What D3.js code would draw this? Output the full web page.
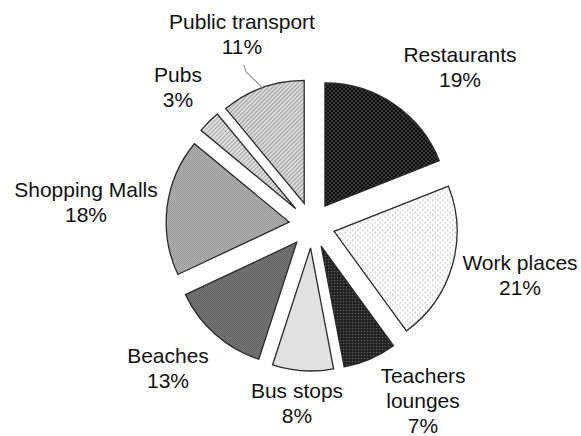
<!DOCTYPE html>
<html><head><meta charset="utf-8">
<script src="https://cdn.jsdelivr.net/npm/d3@7"></script>
<style>html,body{margin:0;padding:0;background:#fff;}svg{display:block;}</style>
</head><body>
<script>
const categories = ["Restaurants","Work places","Teachers lounges","Bus stops","Beaches","Shopping Malls","Pubs","Public transport"];
const values = [19,21,7,8,13,18,3,11];
const labelLines = [["Restaurants","19%"],["Work places","21%"],["Teachers","lounges","7%"],["Bus stops","8%"],["Beaches","13%"],["Shopping Malls","18%"],["Pubs","3%"],["Public transport","11%"]];
const patternIds = ["pRest","pWork","pTeach","pBus","pBeach","pShop","pPubs","pTrans"];
const labelPos = [[460,62],[520,270],[423,383],[297,398],[168,363],[86,197],[178,82],[242,29]];

const W=581,H=436, cx=312, cy=225, R=123, explode=23;
const svg=d3.select("body").append("svg").attr("width",W).attr("height",H);
const defs=svg.append("defs");

function dotPattern(id,size,bg,dot,r,pts){
  const p=defs.append("pattern").attr("id",id).attr("patternUnits","userSpaceOnUse").attr("width",size).attr("height",size);
  p.append("rect").attr("width",size).attr("height",size).attr("fill",bg);
  pts.forEach(q=>p.append("circle").attr("cx",q[0]).attr("cy",q[1]).attr("r",r).attr("fill",dot));
}
function checker(id,a,b){
  const p=defs.append("pattern").attr("id",id).attr("patternUnits","userSpaceOnUse").attr("width",2).attr("height",2);
  p.append("rect").attr("width",2).attr("height",2).attr("fill",a);
  p.append("rect").attr("width",1).attr("height",1).attr("fill",b);
  p.append("rect").attr("x",1).attr("y",1).attr("width",1).attr("height",1).attr("fill",b);
}
function hatch(id,bg,line){
  const p=defs.append("pattern").attr("id",id).attr("patternUnits","userSpaceOnUse").attr("width",3).attr("height",3).attr("patternTransform","rotate(45)");
  p.append("rect").attr("width",3).attr("height",3).attr("fill",bg);
  p.append("line").attr("x1",0).attr("y1",0).attr("x2",0).attr("y2",3).attr("stroke",line).attr("stroke-width",1.3);
}
dotPattern("pRest",4,"#0d0d0d","#8a8a8a",0.65,[[1,1],[3,3]]);
dotPattern("pWork",5,"#ffffff","#a8a8a8",0.7,[[1.2,1.2],[3.7,3.7]]);
dotPattern("pTeach",3,"#1f1f1f","#6a6a6a",0.75,[[1.5,1.5]]);
checker("pBus","#d2d2d2","#f0f0f0");
checker("pBeach","#4f4f4f","#8a8a8a");
checker("pShop","#8a8a8a","#c0c0c0");
hatch("pPubs","#e0e0e0","#858585");
hatch("pTrans","#dadada","#808080");

const data=categories.map((c,i)=>({name:c,value:values[i],i}));
const pie=d3.pie().value(d=>d.value).sort(null).startAngle(0).endAngle(2*Math.PI);
const arcs=pie(data);
const arc=d3.arc().innerRadius(0).outerRadius(R);

const g=svg.append("g").attr("transform",`translate(${cx},${cy})`);
function off(a){const m=(a.startAngle+a.endAngle)/2;return [explode*Math.sin(m),-explode*Math.cos(m)];}
g.selectAll("path.slice").data(arcs).enter().append("path")
  .attr("class","slice")
  .attr("transform",d=>{const o=off(d);return `translate(${o[0]},${o[1]})`;})
  .attr("d",arc)
  .attr("fill",d=>`url(#${patternIds[d.data.i]})`)
  .attr("stroke","#2a2a2a").attr("stroke-width",1.3).attr("stroke-linejoin","miter");

// leader line for Public transport
const pt=arcs[7];
const o7=off(pt);
const am=(pt.startAngle+pt.endAngle)/2;
const ex=cx+o7[0]+R*Math.sin(am), ey=cy+o7[1]-R*Math.cos(am);
svg.append("polyline").attr("points",`${labelPos[7][0]+2},${labelPos[7][1]+36} ${labelPos[7][0]+4},${labelPos[7][1]+43} ${ex},${ey}`)
  .attr("fill","none").attr("stroke","#999").attr("stroke-width",1.2);

const lab=svg.append("g").attr("font-family","Liberation Sans, Arial, sans-serif").attr("font-size",21).attr("fill","#111").attr("text-anchor","middle");
labelLines.forEach((lines,i)=>{
  const t=lab.append("text").attr("x",labelPos[i][0]).attr("y",labelPos[i][1]);
  lines.forEach((s,k)=>t.append("tspan").attr("x",labelPos[i][0]).attr("dy",k===0?0:25).text(s));
});
</script>
</body></html>
